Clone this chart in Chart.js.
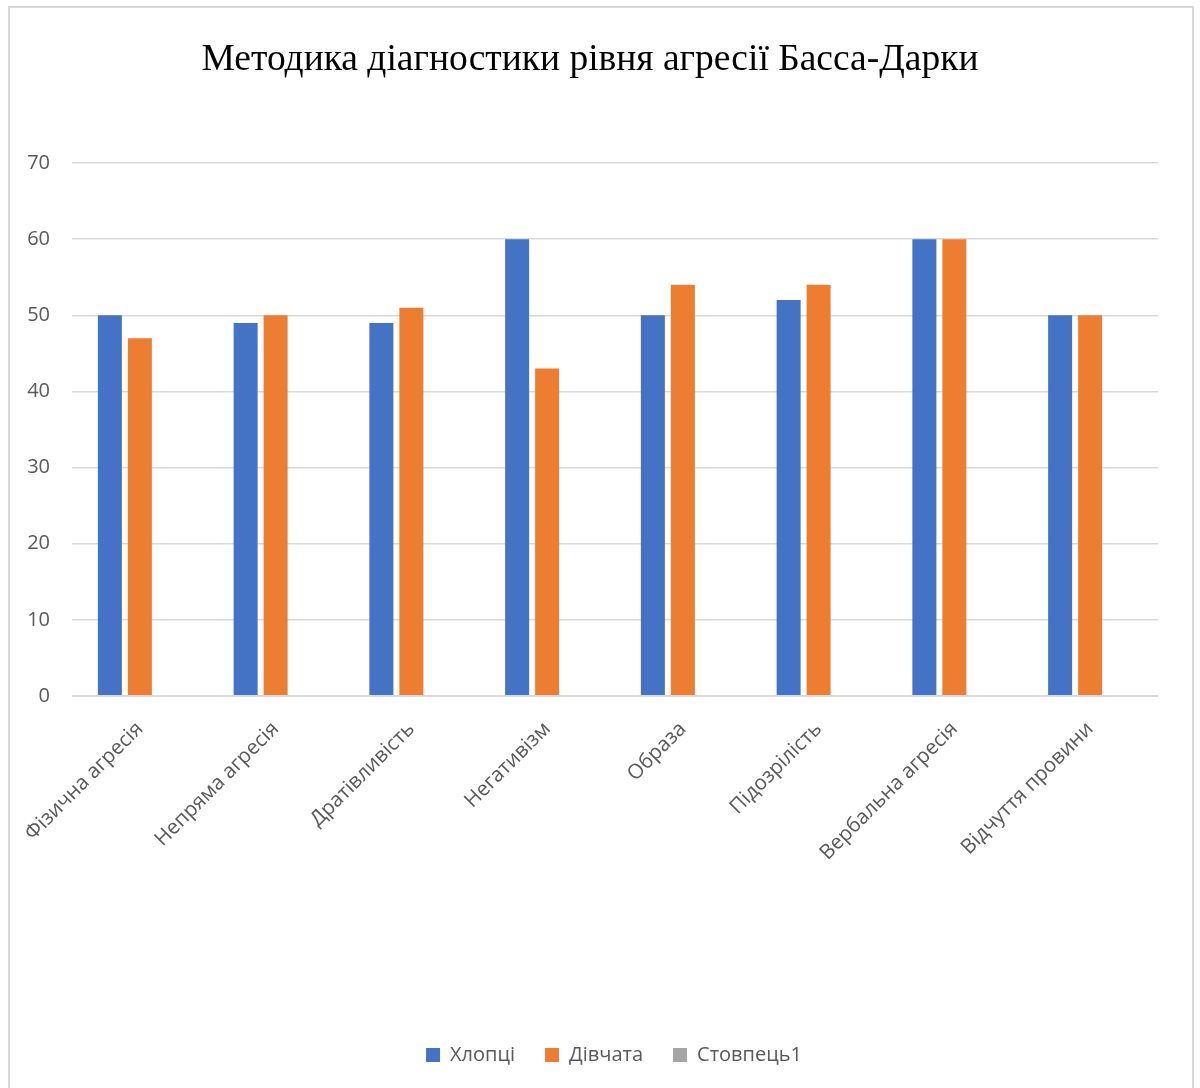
<!DOCTYPE html>
<html lang="uk">
<head>
<meta charset="utf-8">
<title>Методика діагностики рівня агресії Басса-Дарки</title>
<script src="https://cdn.jsdelivr.net/npm/chart.js@4.4.1/dist/chart.umd.min.js"></script>
<style>
  html, body { margin: 0; padding: 0; background: #fff; }
  body { width: 1200px; height: 1088px; position: relative; overflow: hidden; }
  #wrap { position: absolute; left: 0; top: 0; width: 1200px; height: 1088px; }
  #frame {
    position: absolute; left: 8px; top: 6px; width: 1186px; height: 1100px;
    border: 2px solid #d9d9d9; box-sizing: border-box; pointer-events: none;
  }
</style>
</head>
<body>
<div id="wrap"><canvas id="chart" width="1200" height="1088"></canvas></div>
<div id="frame"></div>
<script>
// Scale categories
const categories = [
  'Фізична агресія',
  'Непряма агресія',
  'Дратівливість',
  'Негативізм',
  'Образа',
  'Підозрілість',
  'Вербальна агресія',
  'Відчуття провини'
];

// Scores per category
const boys  = [50, 49, 49, 60, 50, 52, 60, 50];
const girls = [47, 50, 51, 43, 54, 54, 60, 50];
const column1 = [];

const seriesNames = ['Хлопці', 'Дівчата', 'Стовпець1'];
const yTicks = [0, 10, 20, 30, 40, 50, 60, 70];

const TEXT = '#595959';
const GRID = '#d9d9d9';

// Nudges the title and legend after layout
const placeBlocks = {
  id: 'placeBlocks',
  afterLayout(chart) {
    const lg = chart.legend;
    if (lg) {
      const dx = 30, dy = -13;
      lg.left += dx; lg.right += dx;
      lg.top += dy; lg.bottom += dy;
    }
    const t = chart.titleBlock;
    if (t) { t.left += 6; t.right += 6; }
  }
};

new Chart(document.getElementById('chart'), {
  type: 'bar',
  data: {
    labels: categories,
    datasets: [
      { label: seriesNames[0], data: boys,    backgroundColor: '#4472c4' },
      { label: seriesNames[1], data: girls,   backgroundColor: '#ed7d31' },
      { label: seriesNames[2], data: column1, backgroundColor: '#a5a5a5' }
    ]
  },
  options: {
    responsive: false,
    animation: false,
    devicePixelRatio: 1,
    categoryPercentage: 0.663,
    barPercentage: 0.8,
    layout: { padding: { left: 10, right: 42, top: 0, bottom: 0 } },
    plugins: {
      title: {
        display: true,
        text: 'Методика діагностики рівня агресії Басса-Дарки',
        color: '#000',
        font: { family: '"Liberation Serif", "Times New Roman", serif', size: 37.5, weight: 'normal', lineHeight: 1.2 },
        padding: { top: 38, bottom: 80 }
      },
      legend: {
        display: true,
        position: 'bottom',
        labels: {
          color: TEXT,
          font: { family: '"Open Sans", sans-serif', size: 20 },
          boxWidth: 14,
          boxHeight: 14,
          padding: 30
        }
      },
      tooltip: { enabled: false }
    },
    scales: {
      x: {
        grid: { display: false, drawTicks: false },
        border: { display: false },
        ticks: {
          color: TEXT,
          font: { family: '"Open Sans", sans-serif', size: 20.5 },
          minRotation: 45,
          maxRotation: 45,
          padding: 21,
          autoSkip: false
        },
        afterFit(scale) { scale.height = 332; }
      },
      y: {
        min: 0,
        max: 70,
        afterBuildTicks(scale) { scale.ticks = yTicks.map(v => ({ value: v })); },
        grid: {
          color: GRID,
          lineWidth: ctx => (ctx.tick && ctx.tick.value === 0 ? 2 : 1.5),
          drawTicks: false
        },
        border: { display: false },
        ticks: {
          color: TEXT,
          font: { family: '"Open Sans", sans-serif', size: 20 },
          padding: 22
        },
        afterFit(scale) { scale.width = 62; }
      }
    }
  },
  plugins: [placeBlocks]
});
</script>
</body>
</html>
